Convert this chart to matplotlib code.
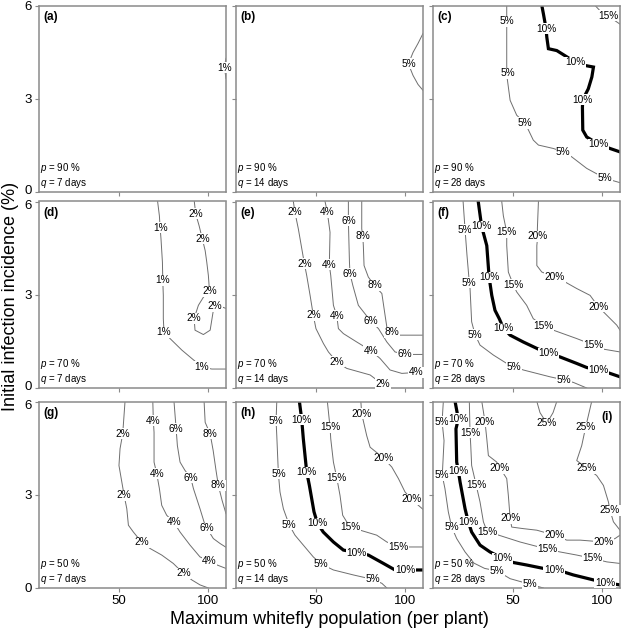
import matplotlib
matplotlib.use("Agg")
import matplotlib.pyplot as plt
from matplotlib.transforms import ScaledTranslation

plt.rcParams["font.family"] = ["Liberation Sans", "DejaVu Sans"]
plt.rcParams["mathtext.fontset"] = "custom"
plt.rcParams["mathtext.it"] = "Liberation Sans:italic"
plt.rcParams["mathtext.rm"] = "Liberation Sans"

# panel settings (p, q)
PANELS = ["a", "b", "c", "d", "e", "f", "g", "h", "i"]
P_VALUES = [90, 90, 90, 70, 70, 70, 50, 50, 50]
Q_VALUES = [7, 14, 28, 7, 14, 28, 7, 14, 28]

X_TICKS = [50, 100]
Y_TICKS = [0, 3, 6]

# ---- contour lines: vertices (x = whitefly, y = incidence) and label spots ----
a_01_x = [110, 109.5, 109.2, 109.5, 110]
a_01_y = [4.3, 4.15, 4.0, 3.85, 3.65]
a_01_lx = [109.2]
a_01_ly = [4.0]

b_05_x = [110, 107.2, 104.4, 101.8, 104.4, 107.2, 110]
b_05_y = [5.1, 4.78, 4.49, 4.12, 3.75, 3.46, 3.27]
b_05_lx = [101.8]
b_05_ly = [4.12]

c_05_x = [46.4, 46.4, 46.4, 46.7, 48.3, 52.0, 56.7, 61.3, 64.2, 72.6, 78.2, 82.9, 91.3, 101.6, 108.2, 110]
c_05_y = [6.0, 5.5, 4.02, 3.64, 2.95, 2.47, 2.22, 1.67, 1.51, 1.40, 1.29, 1.13, 0.76, 0.44, 0.33, 0.30]
c_05_lx = [46.4, 47.0, 56.7, 78.2, 101.6]
c_05_ly = [5.5, 3.82, 2.22, 1.29, 0.44]

c_10_x = [66.1, 67.0, 68.5, 68.9, 69.8, 74.5, 77.3, 84.8, 90.4, 95.1, 94.2, 92.2, 89.1, 88.9, 89.1, 91.3, 97.9, 104.4, 110]
c_10_y = [6.0, 5.73, 5.25, 4.98, 4.61, 4.55, 4.45, 4.18, 4.07, 4.02, 3.70, 3.32, 2.97, 2.73, 1.99, 1.77, 1.54, 1.40, 1.29]
c_10_lx = [68.5, 84.8, 89.1, 97.9]
c_10_ly = [5.25, 4.18, 2.97, 1.54]

c_15_x = [96.0, 98.8, 103.5, 107.2, 110]
c_15_y = [6.0, 5.83, 5.67, 5.51, 5.4]
c_15_lx = [103.5]
c_15_ly = [5.67]

d_01_x = [71.6, 72.6, 73.0, 73.5, 74.3, 74.5, 74.8, 74.8, 75.2, 78.6, 85.2, 90.8, 96.4, 102.0, 110]
d_01_y = [6.0, 5.54, 5.15, 4.80, 4.05, 3.46, 2.98, 2.23, 1.80, 1.59, 1.22, 0.95, 0.68, 0.61, 0.61]
d_01_lx = [73.0, 74.5, 75.2, 96.4]
d_01_ly = [5.15, 3.46, 1.80, 0.68]

d_02_x = [92.2, 93.0, 94.9, 96.7, 98.3, 99.2, 100.1, 100.5, 100.7, 97.3, 94.5, 92.1, 92.6, 97.3, 101.1, 102.0, 102.9, 103.9, 107.6, 110]
d_02_y = [6.0, 5.60, 5.22, 4.80, 4.42, 4.05, 3.62, 3.30, 3.11, 2.92, 2.66, 2.24, 1.86, 1.72, 1.86, 2.18, 2.50, 2.63, 2.61, 2.56]
d_02_lx = [93.0, 96.7, 100.7, 92.1, 103.9]
d_02_ly = [5.60, 4.80, 3.11, 2.24, 2.63]

e_02_x = [37.2, 38.1, 40.0, 43.4, 44.7, 46.6, 48.4, 49.9, 54.1, 56.9, 61.6, 67.2, 80.3, 84.0, 87.4, 90.4]
e_02_y = [6.0, 5.65, 5.12, 4.00, 3.62, 2.98, 2.34, 1.91, 1.43, 1.16, 0.84, 0.63, 0.42, 0.26, 0.12, 0.0]
e_02_lx = [38.1, 43.4, 48.4, 61.6, 87.4]
e_02_ly = [5.65, 4.00, 2.34, 0.84, 0.13]

e_04_x = [55.0, 56.3, 57.8, 57.4, 58.2, 59.7, 61.6, 62.5, 65.3, 72.8, 80.8, 85.9, 91.5, 98.1, 106.1, 110]
e_04_y = [6.0, 5.65, 5.01, 3.96, 3.62, 2.66, 2.32, 1.91, 1.75, 1.48, 1.20, 0.95, 0.58, 0.47, 0.50, 0.50]
e_04_lx = [56.3, 57.4, 61.6, 80.8, 106.1]
e_04_ly = [5.65, 3.96, 2.32, 1.20, 0.50]

e_06_x = [68.1, 68.1, 68.7, 69.0, 70.6, 73.7, 80.7, 85.0, 89.7, 94.3, 100.0, 104.6, 110]
e_06_y = [6.0, 5.38, 4.05, 3.68, 3.30, 2.66, 2.15, 1.91, 1.48, 1.16, 1.08, 1.08, 1.08]
e_06_lx = [68.1, 69.0, 80.7, 100.0]
e_06_ly = [5.38, 3.68, 2.15, 1.08]

e_08_x = [75.6, 75.6, 76.2, 76.5, 76.9, 79.3, 82.7, 86.9, 88.7, 89.7, 92.5, 97.1, 110]
e_08_y = [6.0, 5.12, 4.88, 4.58, 3.94, 3.57, 3.30, 3.04, 2.34, 1.96, 1.80, 1.70, 1.70]
e_08_lx = [76.2, 82.7, 92.5]
e_08_ly = [4.88, 3.30, 1.80]

f_05_x = [21.9, 23.0, 24.1, 25.4, 25.8, 26.7, 28.6, 31.4, 38.9, 46.4, 50.5, 55.7, 70.7, 78.6, 83.8, 91.3]
f_05_y = [6.0, 5.09, 4.26, 3.39, 3.20, 2.13, 1.72, 1.38, 1.06, 0.79, 0.68, 0.58, 0.36, 0.26, 0.18, 0.0]
f_05_lx = [23.0, 25.4, 28.6, 50.5, 78.6]
f_05_ly = [5.09, 3.39, 1.72, 0.68, 0.26]

f_10_x = [30.4, 32.3, 35.2, 36.5, 38.0, 39.8, 42.2, 44.5, 48.3, 55.7, 64.2, 69.8, 76.3, 85.7, 91.3, 97.9, 104.4, 110]
f_10_y = [6.0, 5.20, 4.58, 3.57, 2.98, 2.50, 2.23, 1.93, 1.70, 1.48, 1.25, 1.11, 1.00, 0.79, 0.66, 0.58, 0.47, 0.36]
f_10_lx = [32.3, 36.5, 44.5, 69.8, 97.9]
f_10_ly = [5.20, 3.57, 1.93, 1.11, 0.58]

f_15_x = [43.6, 44.5, 46.4, 46.4, 47.3, 50.1, 52.0, 57.6, 61.3, 67.0, 72.6, 85.7, 95.1, 100.7, 110]
f_15_y = [6.0, 5.54, 5.01, 4.58, 3.73, 3.32, 3.09, 2.66, 2.23, 2.00, 1.86, 1.59, 1.38, 1.25, 1.16]
f_15_lx = [46.4, 50.1, 67.0, 95.1]
f_15_ly = [5.01, 3.32, 2.00, 1.38]

f_20_x = [64.2, 63.6, 63.8, 63.3, 63.3, 66.1, 73.5, 79.2, 85.7, 93.2, 97.9, 102.6, 108.2, 110]
f_20_y = [6.0, 5.12, 4.88, 4.58, 3.94, 3.73, 3.57, 3.41, 3.20, 2.98, 2.61, 2.34, 2.02, 1.86]
f_20_lx = [63.8, 73.5, 97.9]
f_20_ly = [4.88, 3.57, 2.61]

g_02_x = [53.3, 52.0, 50.5, 49.9, 52.8, 54.3, 55.2, 58.0, 62.7, 67.4, 73.9, 80.4, 86.1, 90.8, 95.4, 100.1]
g_02_y = [6.0, 4.96, 4.48, 3.94, 2.98, 2.55, 2.02, 1.80, 1.47, 1.27, 1.06, 0.79, 0.47, 0.26, 0.10, 0.0]
g_02_lx = [52.0, 52.8, 62.7, 86.1]
g_02_ly = [4.96, 2.98, 1.47, 0.47]

g_04_x = [68.9, 69.2, 69.6, 69.6, 71.1, 72.6, 73.9, 76.7, 80.8, 84.2, 89.8, 95.4, 100.7, 105.0, 110]
g_04_y = [6.0, 5.38, 5.01, 4.05, 3.68, 3.20, 2.66, 2.34, 2.11, 1.80, 1.38, 1.00, 0.87, 0.74, 0.63]
g_04_lx = [69.2, 71.1, 80.8, 100.7]
g_04_ly = [5.38, 3.68, 2.11, 0.87]

g_06_x = [80.8, 82.0, 82.7, 84.2, 87.0, 90.2, 91.7, 95.4, 97.7, 99.2, 102.9, 106.7, 110]
g_06_y = [6.0, 5.12, 4.58, 4.05, 3.78, 3.55, 3.20, 2.55, 2.12, 1.93, 1.59, 1.43, 1.31]
g_06_lx = [82.0, 90.2, 99.2]
g_06_ly = [5.12, 3.55, 1.93]

g_08_x = [97.7, 98.3, 101.1, 102.8, 104.4, 105.7, 107.8, 110]
g_08_y = [6.0, 5.33, 4.96, 4.42, 3.78, 3.30, 2.82, 2.39]
g_08_lx = [101.1, 105.7]
g_08_ly = [4.96, 3.30]

h_05_x = [27.9, 27.5, 27.9, 28.8, 29.7, 31.6, 34.8, 38.1, 42.8, 48.4, 52.8, 59.7, 70.9, 81.6, 86.9, 89.7]
h_05_y = [6.0, 5.38, 4.90, 3.68, 3.09, 2.55, 2.04, 1.70, 1.38, 1.00, 0.77, 0.58, 0.42, 0.28, 0.15, 0.0]
h_05_lx = [27.5, 28.8, 34.8, 52.8, 81.6]
h_05_ly = [5.38, 3.68, 2.04, 0.77, 0.28]

h_10_x = [40.6, 41.9, 42.8, 44.7, 46.2, 48.8, 50.7, 54.0, 59.7, 65.3, 72.8, 79.3, 87.8, 94.3, 99.9, 110]
h_10_y = [6.0, 5.42, 4.80, 3.73, 3.30, 2.45, 2.09, 1.80, 1.48, 1.22, 1.14, 1.06, 0.79, 0.58, 0.58, 0.58]
h_10_lx = [41.9, 44.7, 50.7, 72.8, 99.9]
h_10_ly = [5.42, 3.73, 2.09, 1.14, 0.58]

h_15_x = [56.3, 57.8, 58.2, 59.7, 61.6, 63.4, 64.9, 69.0, 74.7, 84.0, 89.7, 96.2, 110]
h_15_y = [6.0, 5.17, 4.80, 4.05, 3.54, 2.98, 2.34, 1.96, 1.86, 1.70, 1.48, 1.32, 1.32]
h_15_lx = [57.8, 61.6, 69.0, 96.2]
h_15_ly = [5.17, 3.54, 1.96, 1.32]

h_20_x = [75.1, 75.6, 78.4, 80.3, 87.8, 92.5, 96.2, 99.9, 103.7, 107.4, 110]
h_20_y = [6.0, 5.60, 4.90, 4.53, 4.18, 3.89, 3.52, 3.09, 2.85, 2.66, 2.53]
h_20_lx = [75.6, 87.8, 103.7]
h_20_ly = [5.60, 4.18, 2.85]

i_05_x = [10.8, 10.1, 11.2, 10.2, 11.7, 13.6, 15.5, 18.3, 23.0, 28.0, 34.0, 41.0, 48.3, 59.5, 67.0]
i_05_y = [6.0, 5.35, 4.74, 3.62, 3.20, 2.45, 1.96, 1.59, 1.16, 0.80, 0.63, 0.55, 0.30, 0.12, 0.0]
i_05_lx = [10.1, 10.2, 15.5, 41.0, 59.5]
i_05_ly = [5.35, 3.62, 1.96, 0.55, 0.12]

i_10_x = [17.4, 19.2, 17.9, 18.3, 19.2, 20.2, 23.0, 24.8, 26.7, 31.4, 37.0, 44.2, 50.1, 57.6, 67.0, 73.0, 78.2, 83.8, 95.1, 101.6, 110]
i_10_y = [6.0, 5.44, 5.12, 4.05, 3.78, 3.41, 2.55, 2.13, 1.80, 1.38, 1.16, 0.95, 0.82, 0.74, 0.63, 0.58, 0.52, 0.42, 0.26, 0.17, 0.10]
i_10_lx = [19.2, 19.2, 24.8, 44.2, 73.0, 101.6]
i_10_ly = [5.44, 3.78, 2.13, 0.95, 0.58, 0.17]

i_15_x = [25.4, 25.8, 26.2, 26.7, 29.2, 31.4, 33.3, 35.5, 40.8, 53.9, 69.2, 76.3, 85.7, 94.7, 102.6, 110]
i_15_y = [6.0, 4.99, 4.58, 3.94, 3.32, 2.77, 2.13, 1.80, 1.72, 1.48, 1.25, 1.16, 1.06, 0.95, 0.84, 0.79]
i_15_lx = [25.8, 29.2, 35.5, 69.2, 94.7]
i_15_ly = [4.99, 3.32, 1.80, 1.25, 0.95]

i_20_x = [32.4, 34.2, 35.2, 36.1, 40.8, 42.6, 46.4, 47.3, 48.3, 49.2, 55.7, 63.3, 73.1, 80.1, 87.6, 100.7, 107.2, 110]
i_20_y = [6.0, 5.35, 4.80, 4.26, 4.05, 3.86, 3.52, 2.98, 2.25, 1.96, 1.91, 1.86, 1.70, 1.54, 1.54, 1.48, 1.59, 1.70]
i_20_lx = [34.2, 42.6, 48.3, 73.1, 100.7]
i_20_ly = [5.35, 3.86, 2.25, 1.70, 1.48]

i_25a_x = [63.3, 65.1, 68.9, 72.4, 74.5]
i_25a_y = [6.0, 5.64, 5.30, 5.64, 6.0]
i_25a_lx = [68.9]
i_25a_ly = [5.30]

i_25b_x = [94.1, 90.7, 88.5, 85.7, 91.3, 96.9, 100.7, 103.5, 104.4, 106.3, 110]
i_25b_y = [6.0, 5.17, 4.58, 4.10, 3.86, 3.62, 3.30, 2.77, 2.50, 2.13, 1.86]
i_25b_lx = [90.7, 91.3, 104.4]
i_25b_ly = [5.17, 3.86, 2.50]

# (panel, level, x, y, label x, label y)
LINES = [
    ("a", 1, a_01_x, a_01_y, a_01_lx, a_01_ly),
    ("b", 5, b_05_x, b_05_y, b_05_lx, b_05_ly),
    ("c", 5, c_05_x, c_05_y, c_05_lx, c_05_ly),
    ("c", 10, c_10_x, c_10_y, c_10_lx, c_10_ly),
    ("c", 15, c_15_x, c_15_y, c_15_lx, c_15_ly),
    ("d", 1, d_01_x, d_01_y, d_01_lx, d_01_ly),
    ("d", 2, d_02_x, d_02_y, d_02_lx, d_02_ly),
    ("e", 2, e_02_x, e_02_y, e_02_lx, e_02_ly),
    ("e", 4, e_04_x, e_04_y, e_04_lx, e_04_ly),
    ("e", 6, e_06_x, e_06_y, e_06_lx, e_06_ly),
    ("e", 8, e_08_x, e_08_y, e_08_lx, e_08_ly),
    ("f", 5, f_05_x, f_05_y, f_05_lx, f_05_ly),
    ("f", 10, f_10_x, f_10_y, f_10_lx, f_10_ly),
    ("f", 15, f_15_x, f_15_y, f_15_lx, f_15_ly),
    ("f", 20, f_20_x, f_20_y, f_20_lx, f_20_ly),
    ("g", 2, g_02_x, g_02_y, g_02_lx, g_02_ly),
    ("g", 4, g_04_x, g_04_y, g_04_lx, g_04_ly),
    ("g", 6, g_06_x, g_06_y, g_06_lx, g_06_ly),
    ("g", 8, g_08_x, g_08_y, g_08_lx, g_08_ly),
    ("h", 5, h_05_x, h_05_y, h_05_lx, h_05_ly),
    ("h", 10, h_10_x, h_10_y, h_10_lx, h_10_ly),
    ("h", 15, h_15_x, h_15_y, h_15_lx, h_15_ly),
    ("h", 20, h_20_x, h_20_y, h_20_lx, h_20_ly),
    ("i", 5, i_05_x, i_05_y, i_05_lx, i_05_ly),
    ("i", 10, i_10_x, i_10_y, i_10_lx, i_10_ly),
    ("i", 15, i_15_x, i_15_y, i_15_lx, i_15_ly),
    ("i", 20, i_20_x, i_20_y, i_20_lx, i_20_ly),
    ("i", 25, i_25a_x, i_25a_y, i_25a_lx, i_25a_ly),
    ("i", 25, i_25b_x, i_25b_y, i_25b_lx, i_25b_ly),
]

W, H = 621, 629
fig = plt.figure(figsize=(W / 100, H / 100), dpi=100)

col_left = [39, 236, 433]
row_bottom = [192, 388, 588]
pw, ph = 187, 186.5
frame = "#8a8a8a"

axes = {}
for k, name in enumerate(PANELS):
    r, c = divmod(k, 3)
    ax = fig.add_axes([col_left[c] / W, 1 - row_bottom[r] / H, pw / W, ph / H])
    ax.set_xlim(5, 110)
    ax.set_ylim(0, 6)
    ax.set_xticks(X_TICKS)
    ax.set_yticks(Y_TICKS)
    ax.tick_params(direction="out", length=3, width=0.8, color=frame,
                   labelsize=9.5, pad=2)
    if c != 0:
        ax.set_yticklabels([])
    else:
        # keep the stacked "0" / "6" labels of adjacent rows apart
        labels = ax.get_yticklabels()
        if r < 2:
            labels[0].set_transform(labels[0].get_transform() +
                                    ScaledTranslation(0, 2 / 72, fig.dpi_scale_trans))
        if r > 0:
            labels[-1].set_transform(labels[-1].get_transform() +
                                     ScaledTranslation(0, -2 / 72, fig.dpi_scale_trans))
    if r != 2:
        ax.set_xticklabels([])
    for sp in ax.spines.values():
        sp.set_color(frame)
        sp.set_linewidth(1.1)
    if name == "i":
        ax.text(0.96, 0.95, "(%s)" % name, transform=ax.transAxes,
                ha="right", va="top", fontsize=8.5, fontweight="bold")
    else:
        ax.text(0.025, 0.97, "(%s)" % name, transform=ax.transAxes,
                ha="left", va="top", fontsize=8.5, fontweight="bold")
    ax.text(0.008, 0.012, "$p$ = %d %%\n$q$ = %d days" % (P_VALUES[k], Q_VALUES[k]),
            transform=ax.transAxes, ha="left", va="bottom", fontsize=7,
            linespacing=1.1)
    axes[name] = ax

for name, level, xs, ys, lxs, lys in LINES:
    ax = axes[name]
    if level == 10:
        ax.plot(xs, ys, color="black", lw=2.3, solid_joinstyle="miter", zorder=2)
    else:
        ax.plot(xs, ys, color="#6e6e6e", lw=0.7, zorder=2)
    for lx, ly in zip(lxs, lys):
        ax.text(lx, ly, "%d%%" % level, ha="center", va="center", fontsize=7.3,
                zorder=3, clip_on=False,
                bbox=dict(boxstyle="square,pad=0.05", fc="white", ec="none"))

fig.text(0.017, 1 - 296.5 / H, "Initial infection incidence (%)", rotation=90,
         ha="center", va="center", fontsize=13)
fig.text(329.5 / W, 1 - 619 / H, "Maximum whitefly population (per plant)",
         ha="center", va="center", fontsize=13)

fig.savefig("out.png", dpi=100)
plt.close(fig)
